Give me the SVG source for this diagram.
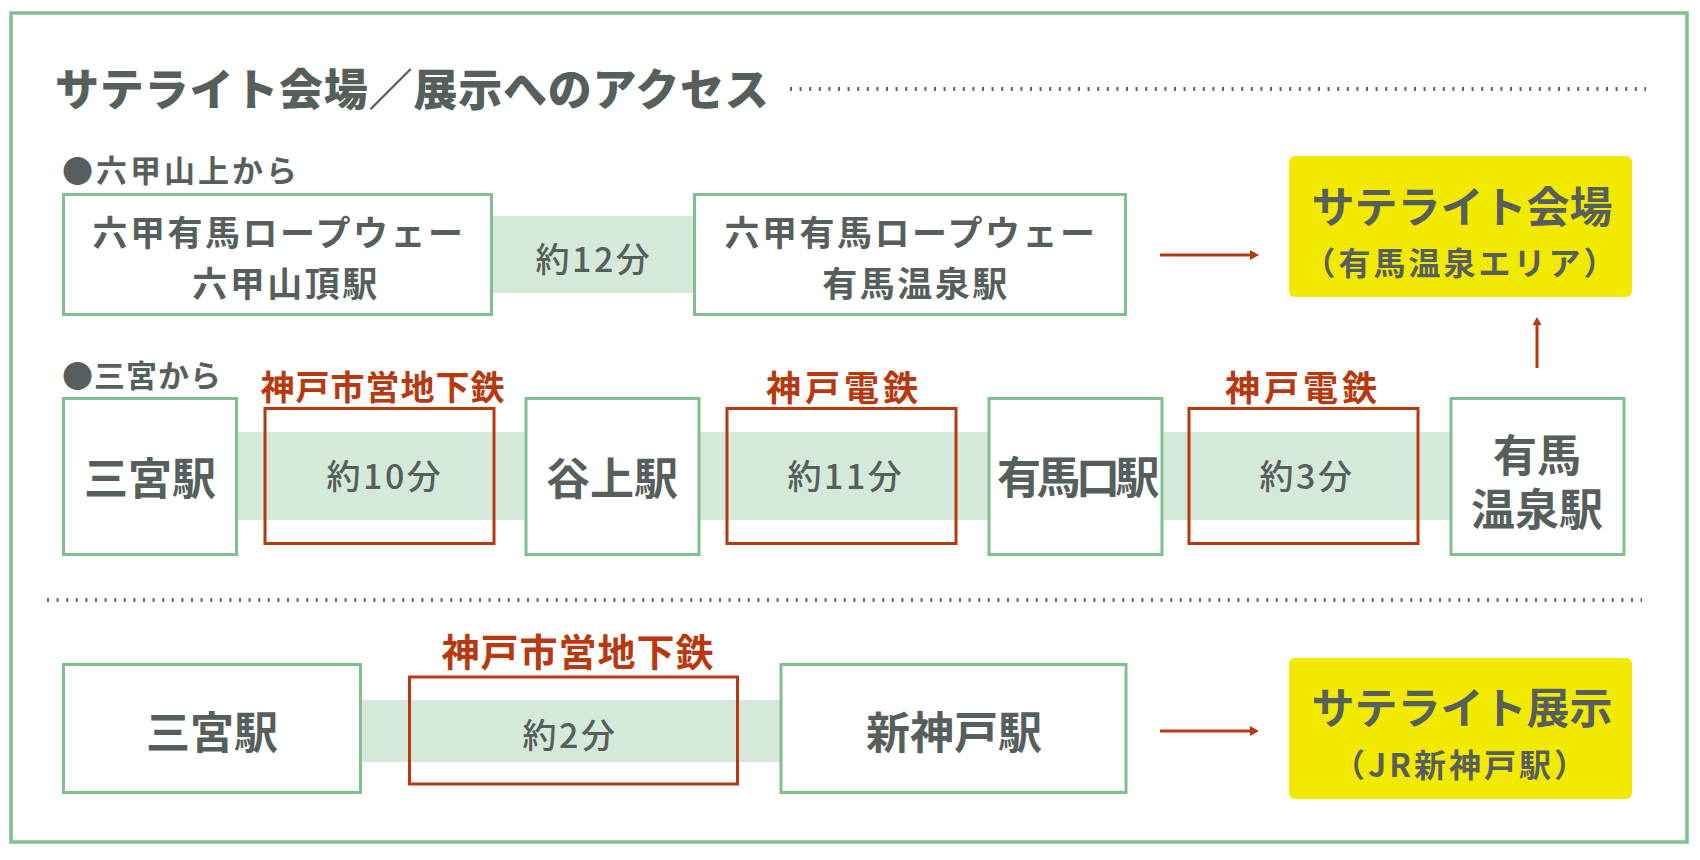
<svg xmlns="http://www.w3.org/2000/svg" width="1700" height="860" viewBox="0 0 1700 860">
<style>
text{font-family:"Noto Sans CJK JP","Noto Sans CJK SC",sans-serif;fill:#575f5c;dominant-baseline:central}
.c{text-anchor:middle}
.title{font-size:44px;font-weight:900;letter-spacing:0.8px}
.sub{font-size:31px;font-weight:700}
.stn{fill:#fff;stroke:#7fbf90;stroke-width:3}
.band{fill:#d5e9db}
.red{fill:none;stroke:#b8390f;stroke-width:3}
.rl{fill:#b8390f;font-weight:700;text-anchor:middle}
.st{font-weight:700;font-size:44px;text-anchor:middle}
.st2{font-weight:700;font-size:35px;letter-spacing:2.5px;text-anchor:middle}
.tm{font-weight:500;font-size:34px;letter-spacing:2.5px;text-anchor:middle}
.yel{fill:#f2e900}
.yt{font-weight:700;font-size:43px;text-anchor:middle}
.ys{font-weight:700;font-size:32px;letter-spacing:3px;text-anchor:middle}
.dot{stroke:#5f6763;stroke-width:4;stroke-dasharray:2 7.6;fill:none}
.arr{stroke:#b8390f;stroke-width:3;fill:none}
.ah{fill:#b8390f}
</style>
<rect x="0" y="0" width="1700" height="860" fill="#fff"/>
<rect id="frame" x="11" y="13" width="1676" height="829" fill="none" stroke="#7fbf90" stroke-width="3.5"/>

<g id="title">
<text class="title" x="55" y="87">サテライト会場／展示へのアクセス</text>
<line class="dot" x1="790" y1="89" x2="1646" y2="89"/>
</g>
<text class="sub" x="62" y="168" letter-spacing="3">●六甲山上から</text>
<text class="sub" x="62" y="373" letter-spacing="1">●三宮から</text>
<line id="separator" class="dot" x1="47" y1="600" x2="1642" y2="600"/>

<g id="bands">
<rect class="band" x="490" y="216" width="206" height="77"/>
<rect class="band" x="236" y="432" width="1216" height="88"/>
<rect class="band" x="360" y="700" width="421" height="62"/>
</g>

<g id="connectors">
<line class="arr" x1="1160" y1="255" x2="1251" y2="255"/>
<polygon class="ah" points="1250,250 1259,255 1250,260"/>
<line class="arr" x1="1537" y1="368" x2="1537" y2="324"/>
<polygon class="ah" points="1532.5,325 1537,317 1541.5,325"/>
<line class="arr" x1="1160" y1="731" x2="1251" y2="731"/>
<polygon class="ah" points="1250,726 1259,731 1250,736"/>
</g>

<g id="rokko-sancho">
<rect class="stn" x="63.5" y="194.5" width="428" height="120"/>
<text class="st2" x="279" y="230">六甲有馬ロープウェー</text>
<text class="st2" x="286" y="281">六甲山頂駅</text>
</g>
<text id="t12" class="tm" x="594" y="257">約12分</text>
<g id="arima-onsen-ropeway">
<rect class="stn" x="694.5" y="194.5" width="431" height="120"/>
<text class="st2" x="911" y="230">六甲有馬ロープウェー</text>
<text class="st2" x="916" y="281">有馬温泉駅</text>
</g>
<g id="satellite-venue">
<rect class="yel" x="1289" y="156" width="343" height="141" rx="6"/>
<text class="yt" x="1462" y="204">サテライト会場</text>
<text class="ys" x="1461" y="261">（有馬温泉エリア）</text>
</g>

<g id="sannomiya1">
<rect class="stn" x="63.5" y="398.5" width="173" height="156"/>
<text class="st" x="150" y="476">三宮駅</text>
</g>
<g id="seg1">
<text class="rl" x="383" y="385" font-size="34" letter-spacing="1">神戸市営地下鉄</text>
<rect class="red" x="265" y="408.5" width="229" height="135"/>
<text class="tm" x="385" y="474">約10分</text>
</g>
<g id="tanigami">
<rect class="stn" x="526" y="398.5" width="173" height="156"/>
<text class="st" x="612" y="476">谷上駅</text>
</g>
<g id="seg2">
<text class="rl" x="844" y="385" font-size="35" letter-spacing="4">神戸電鉄</text>
<rect class="red" x="727" y="408.5" width="229" height="135"/>
<text class="tm" x="846" y="474">約11分</text>
</g>
<g id="arimaguchi">
<rect class="stn" x="989" y="398.5" width="173" height="156"/>
<text class="st" x="1076" y="475" font-size="40" letter-spacing="-4.5">有馬口駅</text>
</g>
<g id="seg3">
<text class="rl" x="1303" y="385" font-size="35" letter-spacing="4">神戸電鉄</text>
<rect class="red" x="1189" y="408.5" width="229" height="135"/>
<text class="tm" x="1307" y="474">約3分</text>
</g>
<g id="arima-onsen">
<rect class="stn" x="1451" y="398.5" width="173" height="156"/>
<text class="st" font-size="42"><tspan x="1537" y="453">有馬</tspan><tspan x="1537" y="507">温泉駅</tspan></text>
</g>

<g id="sannomiya2">
<rect class="stn" x="63.5" y="664.5" width="297" height="128"/>
<text class="st" x="212" y="730">三宮駅</text>
</g>
<g id="seg4">
<text class="rl" x="578" y="649" font-size="38" letter-spacing="1">神戸市営地下鉄</text>
<rect class="red" x="409.5" y="677" width="328" height="107"/>
<text class="tm" x="570" y="733">約2分</text>
</g>
<g id="shin-kobe">
<rect class="stn" x="781" y="664.5" width="345" height="128"/>
<text class="st" x="954" y="730">新神戸駅</text>
</g>
<g id="satellite-exhibit">
<rect class="yel" x="1289" y="658" width="343" height="141" rx="6"/>
<text class="yt" x="1462" y="705">サテライト展示</text>
<text class="ys" x="1461" y="763">（JR新神戸駅）</text>
</g>
</svg>
